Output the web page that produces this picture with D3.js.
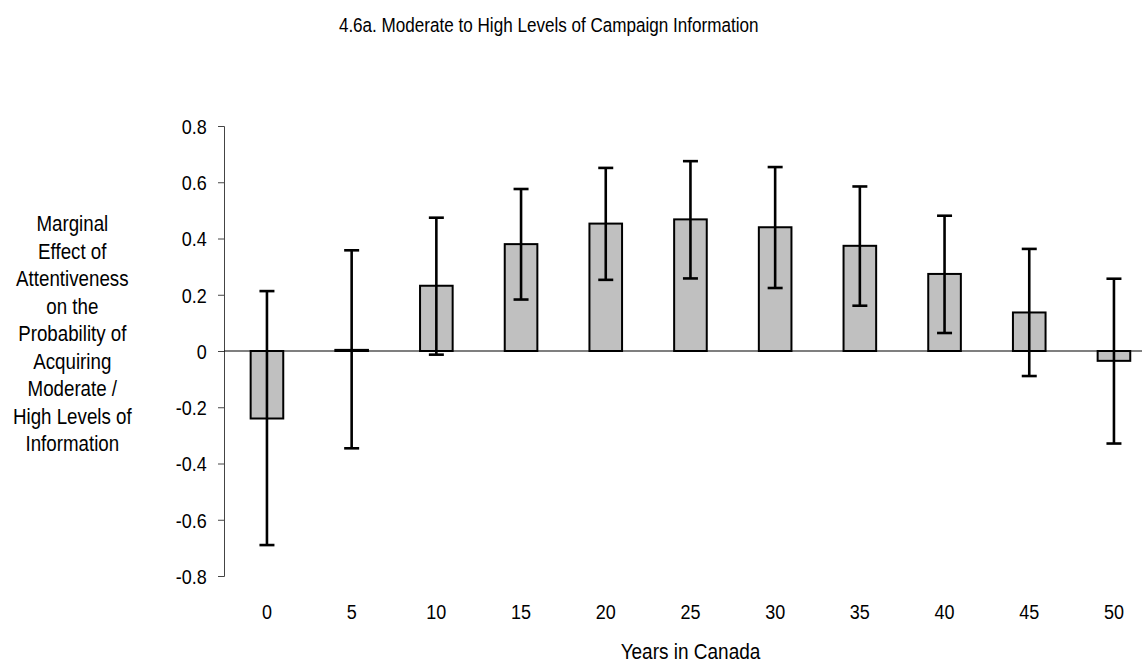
<!DOCTYPE html>
<html>
<head>
<meta charset="utf-8">
<script src="https://cdn.jsdelivr.net/npm/d3@7"></script>
<style>
  html, body { margin: 0; padding: 0; background: #fff; }
  svg { display: block; font-family: "Liberation Sans", Arial, sans-serif; }
</style>
</head>
<body>
<svg id="chart" width="1142" height="664"></svg>
<script>
// Years in Canada (categories)
const years = ["0", "5", "10", "15", "20", "25", "30", "35", "40", "45", "50"];
// Marginal effect estimates
const effect = [-0.240, 0.004, 0.232, 0.380, 0.453, 0.468, 0.440, 0.374, 0.274, 0.137, -0.035];
// Confidence interval bounds
const upper = [0.213, 0.358, 0.474, 0.576, 0.651, 0.675, 0.654, 0.585, 0.481, 0.363, 0.257];
const lower = [-0.690, -0.346, -0.013, 0.183, 0.253, 0.258, 0.224, 0.161, 0.064, -0.089, -0.329];
// Y-axis ticks
const yTicks = [-0.8, -0.6, -0.4, -0.2, 0, 0.2, 0.4, 0.6, 0.8];
const yTickLabels = ["-0.8", "-0.6", "-0.4", "-0.2", "0", "0.2", "0.4", "0.6", "0.8"];

const titleText = "4.6a. Moderate to High Levels of Campaign Information";
const xTitleText = "Years in Canada";
const yTitleLines = ["Marginal", "Effect of", "Attentiveness", "on the", "Probability of",
                     "Acquiring", "Moderate /", "High Levels of", "Information"];

const svg = d3.select("#chart");
const TALL = 1.15; // glyphs are drawn slightly taller than wide

const x = d3.scaleBand().domain(years).range([224.6, 1156.3]).padding(0);
const y = d3.scaleLinear().domain([-0.8, 0.8]).range([576, 126]);

const rows = years.map((yr, i) => ({ yr, v: effect[i], hi: upper[i], lo: lower[i] }));

// Title
svg.append("text")
  .attr("transform", `translate(548.7,31.7) scale(1,${TALL})`)
  .attr("text-anchor", "middle")
  .attr("font-size", 17.1)
  .attr("fill", "#000")
  .text(titleText);

// Y axis
const yAxis = svg.append("g")
  .attr("transform", "translate(224,0)")
  .call(d3.axisLeft(y).tickValues(yTicks).tickSize(6)
        .tickFormat((d, i) => yTickLabels[i]));
yAxis.select(".domain").attr("stroke", "#444").attr("stroke-width", 1);
yAxis.selectAll(".tick line").attr("stroke", "#444");
yAxis.selectAll(".tick text")
  .attr("x", null).attr("dy", null)
  .attr("transform", `translate(-17.3,7.3) scale(1,${TALL})`)
  .attr("font-size", 18).attr("fill", "#000")
  .attr("font-family", '"Liberation Sans", Arial, sans-serif');

// Zero reference line
svg.append("line")
  .attr("x1", 224).attr("x2", 1156)
  .attr("y1", y(0)).attr("y2", y(0))
  .attr("stroke", "#000").attr("stroke-width", 1.2);

// X axis labels
const xAxis = svg.append("g")
  .attr("transform", "translate(0,576)")
  .call(d3.axisBottom(x).tickSize(0));
xAxis.select(".domain").remove();
xAxis.selectAll(".tick text")
  .attr("y", null).attr("dy", null)
  .attr("transform", `translate(0,43) scale(1,${TALL})`)
  .attr("font-size", 18).attr("fill", "#000")
  .attr("font-family", '"Liberation Sans", Arial, sans-serif');

// Bars
const barW = x.bandwidth() * 0.385;
svg.append("g").selectAll("rect")
  .data(rows).join("rect")
  .attr("x", d => x(d.yr) + x.bandwidth() / 2 - barW / 2)
  .attr("width", barW)
  .attr("y", d => y(Math.max(0, d.v)))
  .attr("height", d => Math.abs(y(d.v) - y(0)))
  .attr("fill", "#c0c0c0")
  .attr("stroke", "#000")
  .attr("stroke-width", 2);

// Error bars
const capHalf = 7.5;
const err = svg.append("g").attr("stroke", "#000").attr("stroke-width", 2.6);
err.selectAll("line.v").data(rows).join("line").attr("class", "v")
  .attr("x1", d => x(d.yr) + x.bandwidth() / 2)
  .attr("x2", d => x(d.yr) + x.bandwidth() / 2)
  .attr("y1", d => y(d.hi)).attr("y2", d => y(d.lo));
err.selectAll("line.t").data(rows).join("line").attr("class", "t")
  .attr("x1", d => x(d.yr) + x.bandwidth() / 2 - capHalf)
  .attr("x2", d => x(d.yr) + x.bandwidth() / 2 + capHalf)
  .attr("y1", d => y(d.hi)).attr("y2", d => y(d.hi));
err.selectAll("line.b").data(rows).join("line").attr("class", "b")
  .attr("x1", d => x(d.yr) + x.bandwidth() / 2 - capHalf)
  .attr("x2", d => x(d.yr) + x.bandwidth() / 2 + capHalf)
  .attr("y1", d => y(d.lo)).attr("y2", d => y(d.lo));

// X-axis title
svg.append("text")
  .attr("transform", `translate(690.5,659) scale(1,${TALL})`)
  .attr("text-anchor", "middle")
  .attr("font-size", 19)
  .attr("fill", "#000")
  .text(xTitleText);

// Y-axis title, stacked lines
svg.append("g").selectAll("text")
  .data(yTitleLines).join("text")
  .attr("transform", (d, i) => `translate(72.3,${231 + i * 27.5}) scale(1,${TALL})`)
  .attr("text-anchor", "middle")
  .attr("font-size", 18.75)
  .attr("fill", "#000")
  .text(d => d);
</script>
</body>
</html>
